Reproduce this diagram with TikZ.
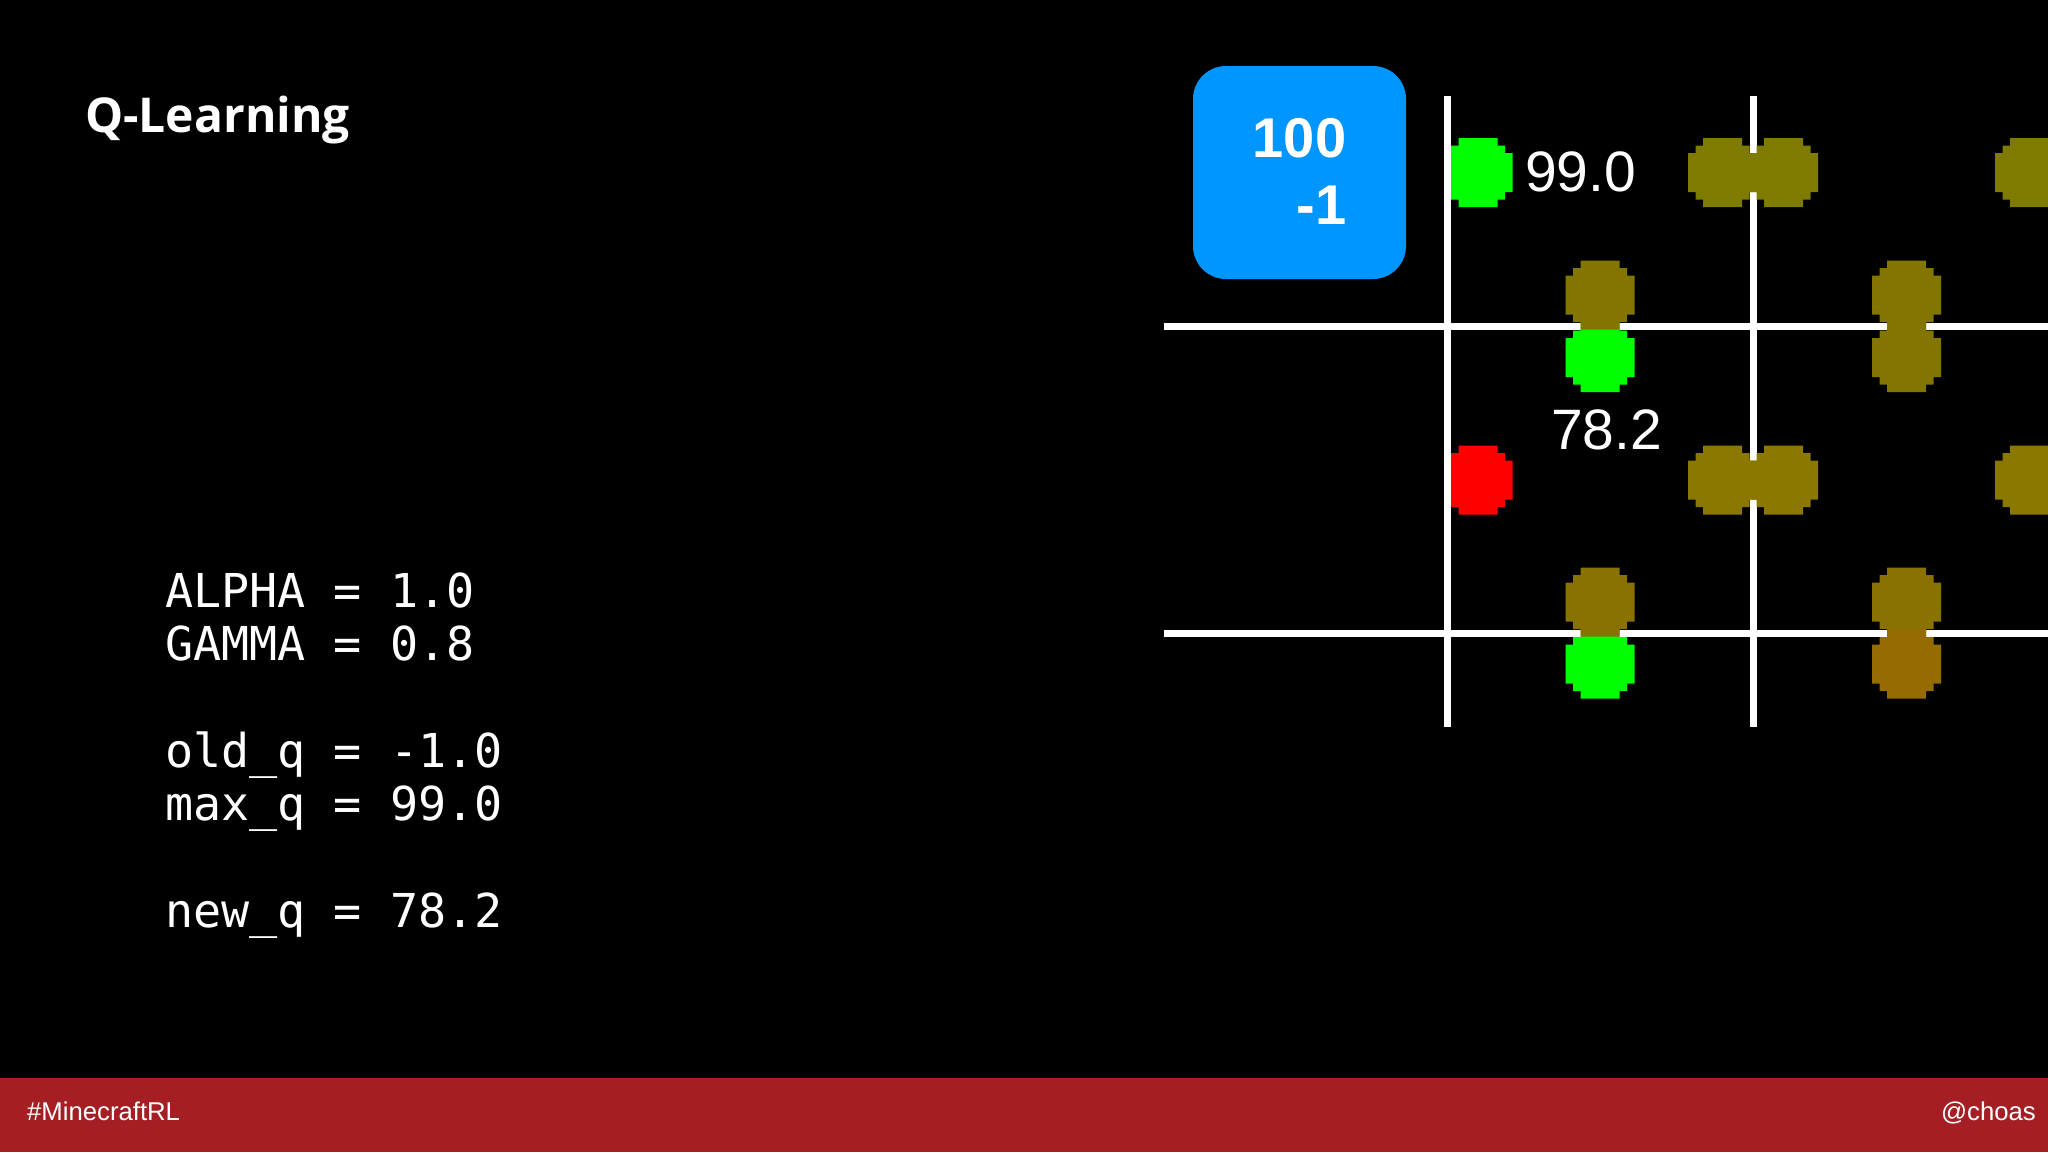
\documentclass[tikz,border=0pt]{standalone}
\usepackage{fontspec}
\setmainfont{Liberation Sans}
\setmonofont{DejaVu Sans Mono}
\newfontfamily\titlefont{Open Sans}
\definecolor{slidebar}{HTML}{A51E24}
\definecolor{rewardblue}{HTML}{0096FF}
\definecolor{qgood}{HTML}{00FF00}
\definecolor{qbad}{HTML}{FF0000}
\definecolor{qolive}{HTML}{7F7A00}
\definecolor{qolivem}{HTML}{827600}
\definecolor{qoliver}{HTML}{8A7800}
\definecolor{qolived}{HTML}{8A7200}
\definecolor{qbrown}{HTML}{966C00}
\tikzset{
	x = 1pt, y = -1pt,
	qdot/.pic = {
		\fill [pic actions] (-19.5,-34.5) -- (19.5,-34.5) -- (19.5,-27) -- (27,-27) -- (27,-19.5) -- (34.5,-19.5)
			-- (34.5,19.5) -- (27,19.5) -- (27,27) -- (19.5,27) -- (19.5,34.5)
			-- (-19.5,34.5) -- (-19.5,27) -- (-27,27) -- (-27,19.5) -- (-34.5,19.5)
			-- (-34.5,-19.5) -- (-27,-19.5) -- (-27,-27) -- (-19.5,-27) -- cycle;
	},
	gridline/.style = {draw = white, line width = 7pt},
	slidetext/.style = {text = white, inner sep = 0pt},
	qvalue/.style = {slidetext, anchor = base west, font = \fontsize{57}{60}\selectfont},
	barlabel/.style = {slidetext, font = \fontsize{25.7}{30}\selectfont},
}
\begin{document}
\begin{tikzpicture}
		\def\w{2048};
		\def\h{1152};
		\def\barheight{1078};
		
		\useasboundingbox (0,0) rectangle (\w,\h);
		\fill [black] (0,0) rectangle (\w,\h);
		\fill [slidebar] (0,\barheight) rectangle (\w,\h);
		
		% dots that sit under the grid
		\begin{scope}
			\clip (1447,100) rectangle (1530,520);
			\pic [fill = qgood] at (1478,172.5) {qdot};
			\pic [fill = qbad] at (1478,480) {qdot};
		\end{scope}
		
		\foreach \x in {1447, 1753}
			\draw [gridline] (\x,96) -- (\x,727);
		\foreach \y in {326, 633}
			\draw [gridline] (1164,\y) -- (\w,\y);
		
		% green ones first, the darker ones overlap them
		\pic [fill = qgood] at (1600,357.5) {qdot};
		\pic [fill = qgood] at (1600,664) {qdot};
		\foreach \x/\y in {1722.5/172.5, 1783.5/172.5, 2029.5/172.5}
			\pic [fill = qolive] at (\x,\y) {qdot};
		\foreach \x/\y in {1600/295, 1906.5/295, 1906.5/357.5}
			\pic [fill = qolivem] at (\x,\y) {qdot};
		\foreach \x/\y in {1722.5/480, 1783.5/480, 2029.5/480}
			\pic [fill = qoliver] at (\x,\y) {qdot};
		\foreach \x/\y in {1600/602, 1906.5/602}
			\pic [fill = qolived] at (\x,\y) {qdot};
		\pic [fill = qbrown] at (1906.5,664) {qdot};
		
		\node [fill = rewardblue, text = white, rounded corners = 33pt, minimum width = 213pt, minimum height = 213pt, align = right, inner sep = 0pt, font = \fontsize{56}{66.5}\selectfont\bfseries] (reward box) at (1299.5,172.5) {100\\-1\rule[-2.5pt]{0pt}{1pt}};
		
		\node [qvalue] (max value) at (1525,191) {99.0};
		\node [qvalue] (new value) at (1551,449) {78.2};
		
		\node [slidetext, anchor = base west, font = \fontsize{48}{52}\selectfont\titlefont\bfseries] (slide title) at (85,132) {Q-Learning};
		
		\node [slidetext, anchor = north west, align = left, font = \fontsize{46.7}{53.3}\selectfont\ttfamily] (update code) at (165,572.5) {ALPHA = 1.0\\GAMMA = 0.8\\ \\old\_q = -1.0\\max\_q = 99.0\\ \\new\_q = 78.2};
		
		\node [barlabel, anchor = base west] (hashtag) at (27,1120) {\#MinecraftRL};
		\node [barlabel, anchor = base east] (handle) at (2036,1120) {@choas};
	\end{tikzpicture}
\end{document}
